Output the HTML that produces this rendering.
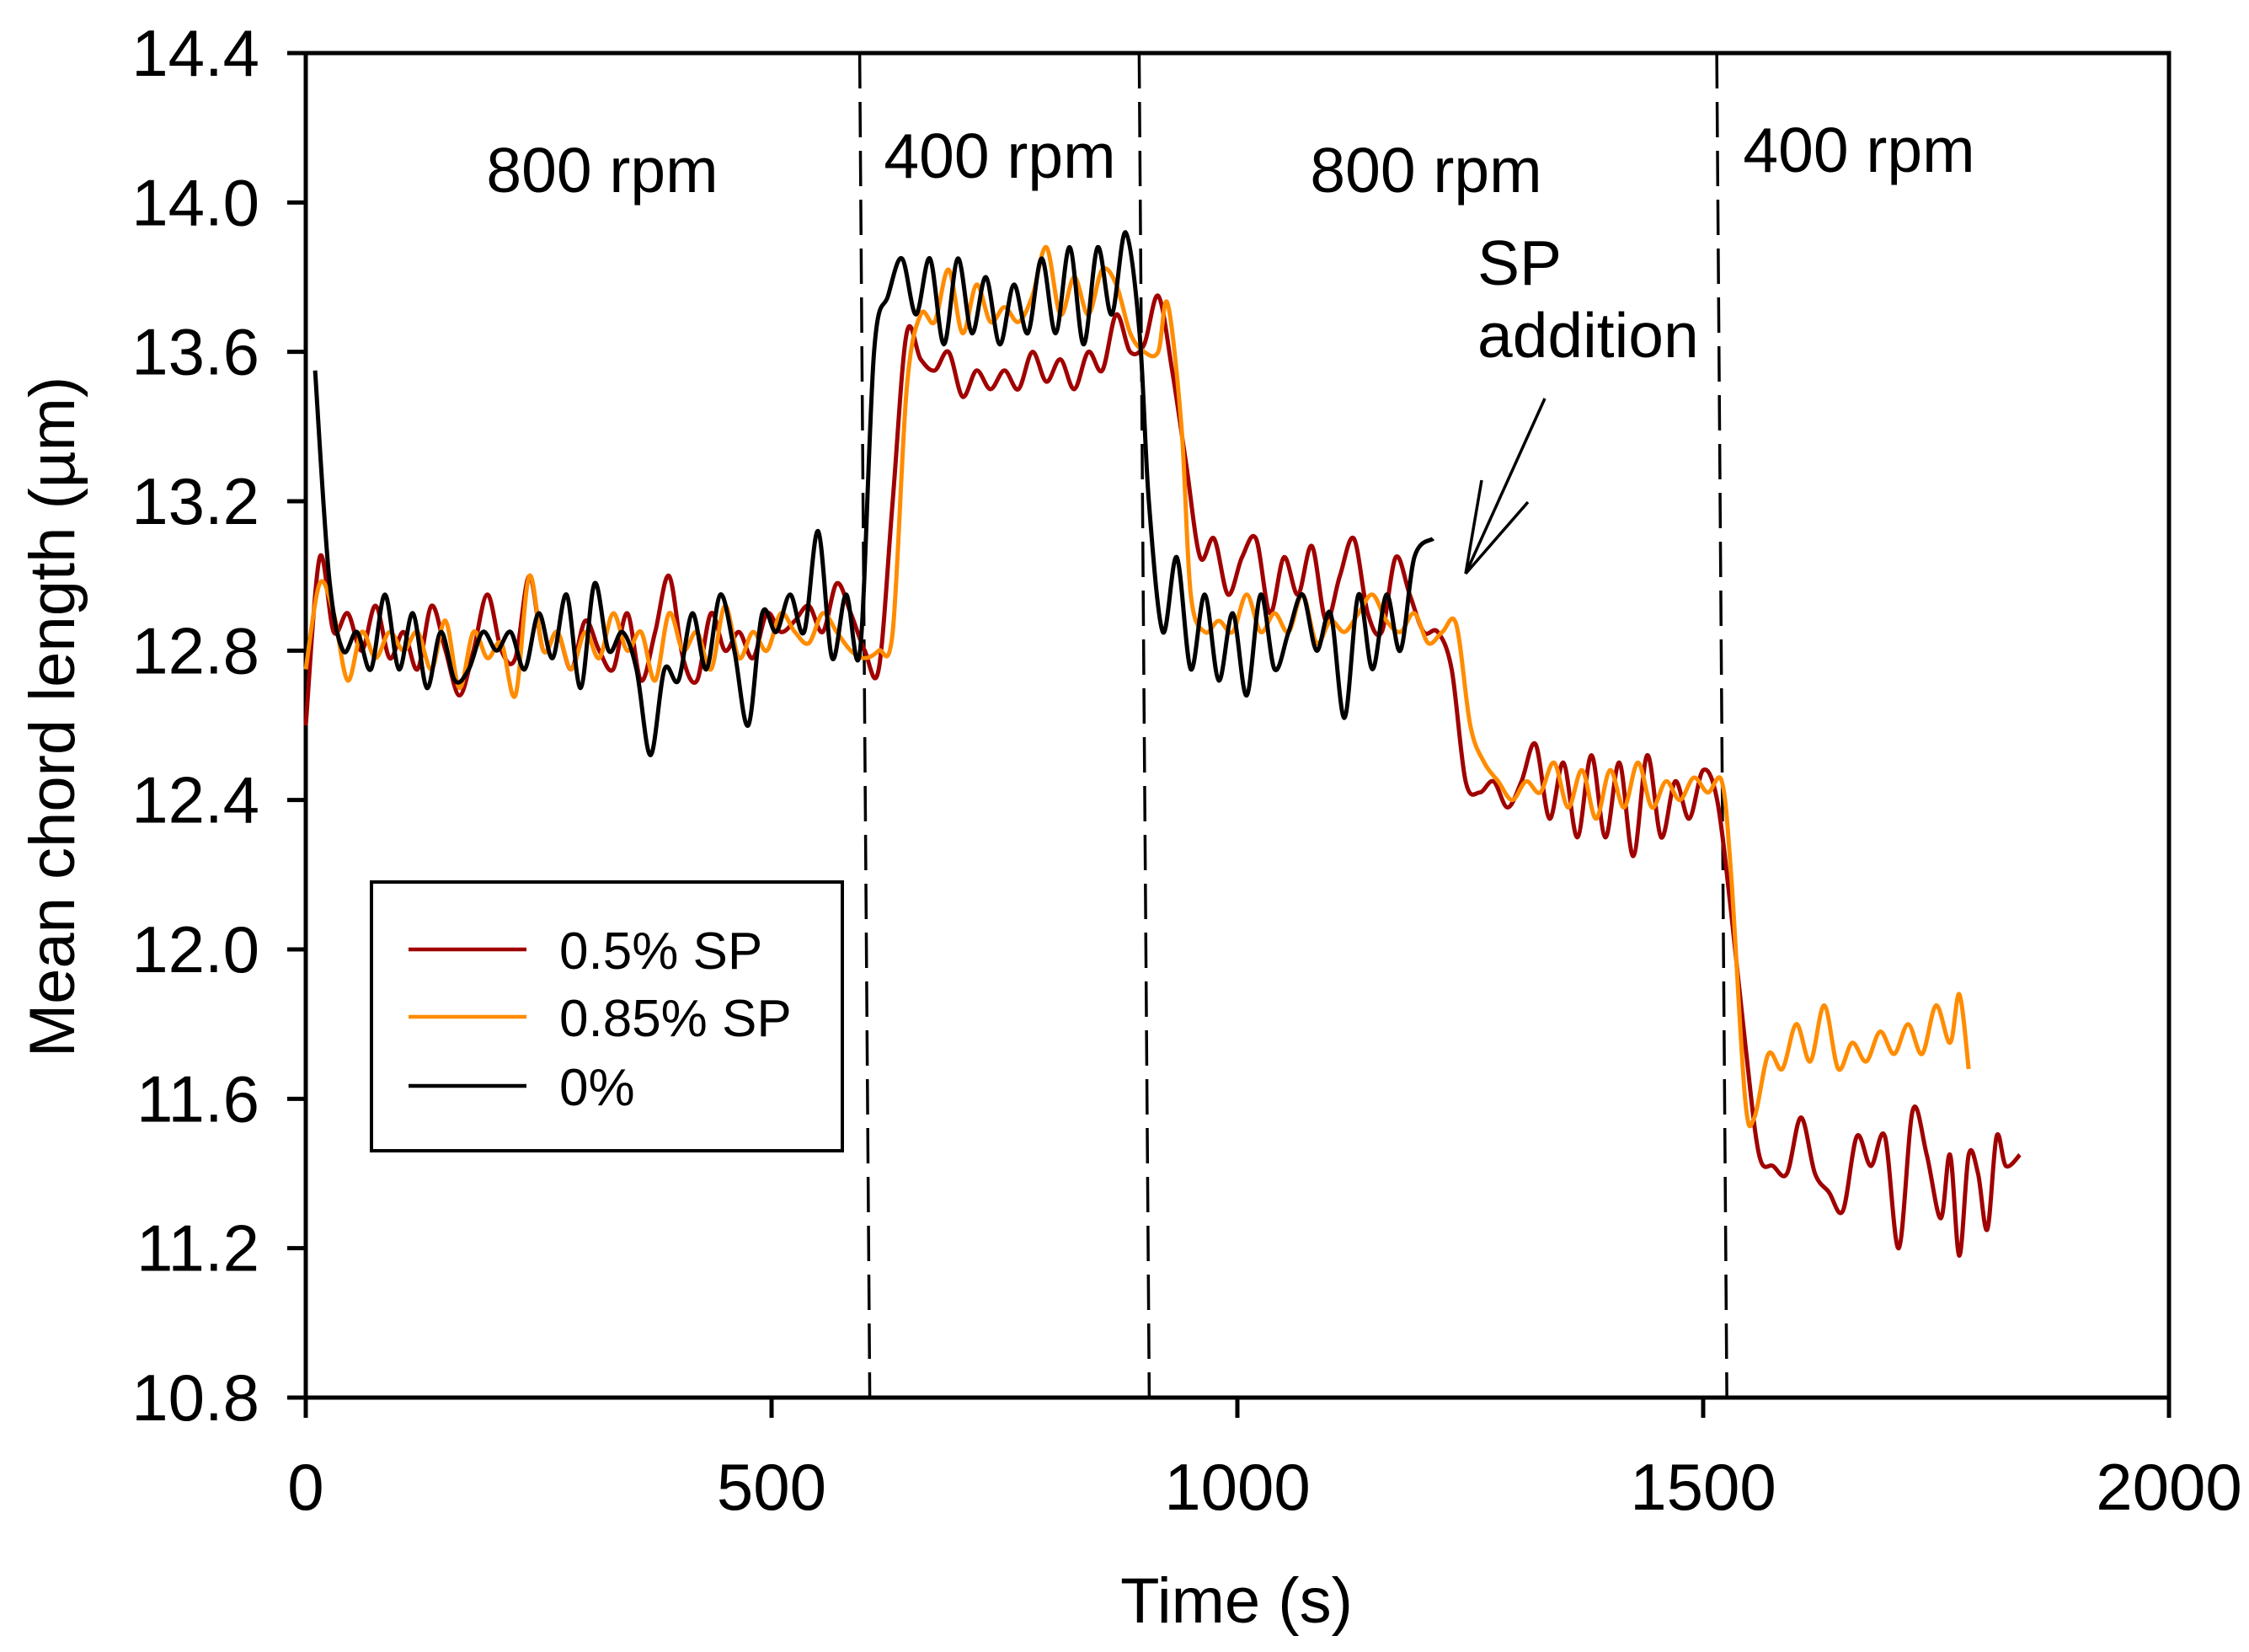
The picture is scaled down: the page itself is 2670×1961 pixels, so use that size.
<!DOCTYPE html>
<html><head><meta charset="utf-8"><style>
html,body{margin:0;padding:0;background:#fff}
svg{display:block}
text{font-family:"Liberation Sans",Arial,sans-serif;fill:#000}
</style></head><body>
<svg id="chart" width="2670" height="1961" viewBox="0 0 2670 1961">
<g id="axes"></g>
<g id="series"></g>
<g>
<text x="715" y="228" font-size="75" text-anchor="middle">800 rpm</text>
<text x="1187" y="211" font-size="75" text-anchor="middle">400 rpm</text>
<text x="1693" y="228" font-size="75" text-anchor="middle">800 rpm</text>
<text x="2207" y="204" font-size="75" text-anchor="middle">400 rpm</text>
<text x="1754" y="338" font-size="75">SP</text>
<text x="1754" y="424" font-size="75">addition</text>
<g stroke="#000" stroke-width="3.5" fill="none">
<line x1="1834" y1="473" x2="1740" y2="681"/>
<line x1="1740" y1="681" x2="1759" y2="570"/>
<line x1="1740" y1="681" x2="1814" y2="596"/>
</g>
</g>
<g>
<rect x="441" y="1047" width="559" height="319" fill="#fff" stroke="#000" stroke-width="4"/>
<line x1="485" y1="1127" x2="625" y2="1127" stroke="#a00000" stroke-width="4.5"/>
<text x="664" y="1150" font-size="62">0.5% SP</text>
<line x1="485" y1="1207" x2="625" y2="1207" stroke="#ff8c00" stroke-width="4.5"/>
<text x="664" y="1230" font-size="62">0.85% SP</text>
<line x1="485" y1="1289" x2="625" y2="1289" stroke="#000" stroke-width="4.5"/>
<text x="664" y="1312" font-size="62">0%</text>
</g>
</svg>
<script>
const xTicks=[0,500,1000,1500,2000];
const yTicks=[10.8,11.2,11.6,12.0,12.4,12.8,13.2,13.6,14.0,14.4];
const dividers=[600,900,1520];
const tBlack=[10,25,40,55,70,85,100,115,130,145,160,175,190,205,220,235,250,265,280,295,310,325,340,355,370,385,400,415,430,445,460,475,490,505,520,535,550,565,580,595,610,625,640,655,670,685,700,715,730,745,760,775,790,805,820,835,850,865,880,895,905,920,935,950,965,980,995,1010,1025,1040,1055,1070,1085,1100,1115,1130,1145,1160,1175,1190,1210];
const vBlack=[13.55,13.0,12.8,12.85,12.75,12.95,12.75,12.9,12.7,12.85,12.72,12.75,12.85,12.8,12.85,12.75,12.9,12.78,12.95,12.7,12.98,12.8,12.85,12.75,12.52,12.75,12.72,12.9,12.75,12.95,12.8,12.6,12.9,12.85,12.95,12.85,13.12,12.78,12.95,12.8,13.6,13.75,13.85,13.7,13.85,13.62,13.85,13.65,13.8,13.62,13.78,13.65,13.85,13.65,13.88,13.62,13.88,13.7,13.92,13.65,13.2,12.85,13.05,12.75,12.95,12.72,12.9,12.68,12.95,12.75,12.85,12.95,12.8,12.9,12.62,12.95,12.75,12.95,12.8,13.05,13.1];
const tRed=[0,15,30,45,60,75,90,105,120,135,150,165,180,195,210,225,240,255,270,285,300,315,330,345,360,375,390,405,420,435,450,465,480,495,510,525,540,555,570,585,600,615,630,645,660,675,690,705,720,735,750,765,780,795,810,825,840,855,870,885,900,915,930,945,960,975,990,1005,1020,1035,1050,1065,1080,1095,1110,1125,1140,1155,1170,1185,1200,1215,1230,1245,1260,1275,1290,1305,1320,1335,1350,1365,1380,1395,1410,1425,1440,1455,1470,1485,1500,1515,1530,1545,1560,1575,1590,1605,1620,1635,1650,1665,1680,1695,1710,1725,1740,1755,1765,1775,1785,1795,1805,1815,1825,1840];
const vRed=[12.6,13.05,12.85,12.9,12.8,12.92,12.78,12.85,12.75,12.92,12.8,12.68,12.8,12.95,12.8,12.78,13.0,12.8,12.85,12.75,12.88,12.8,12.75,12.9,12.72,12.85,13.0,12.78,12.72,12.9,12.8,12.85,12.78,12.9,12.85,12.88,12.92,12.85,12.98,12.9,12.8,12.75,13.2,13.65,13.58,13.55,13.6,13.48,13.55,13.5,13.55,13.5,13.6,13.52,13.58,13.5,13.6,13.55,13.7,13.6,13.62,13.75,13.55,13.3,13.05,13.1,12.95,13.05,13.1,12.9,13.05,12.95,13.08,12.88,13.0,13.1,12.9,12.85,13.05,12.95,12.85,12.85,12.75,12.45,12.42,12.45,12.38,12.45,12.55,12.35,12.5,12.3,12.52,12.3,12.5,12.25,12.52,12.3,12.45,12.35,12.48,12.4,12.1,11.75,11.45,11.42,11.4,11.55,11.4,11.35,11.3,11.5,11.42,11.5,11.2,11.57,11.45,11.28,11.45,11.18,11.45,11.4,11.25,11.5,11.42,11.45];
const tOrange=[0,15,30,45,60,75,90,105,120,135,150,165,180,195,210,225,240,255,270,285,300,315,330,345,360,375,390,405,420,435,450,465,480,495,510,525,540,555,570,585,600,615,630,645,660,675,690,705,720,735,750,765,780,795,810,825,840,855,870,885,900,915,925,940,950,965,980,995,1010,1025,1040,1055,1070,1085,1100,1115,1130,1145,1160,1175,1190,1205,1220,1235,1250,1265,1280,1295,1310,1325,1340,1355,1370,1385,1400,1415,1430,1445,1460,1475,1490,1505,1520,1530,1545,1555,1570,1585,1600,1615,1630,1645,1660,1675,1690,1705,1720,1735,1750,1765,1775,1785];
const vOrange=[12.75,12.98,12.9,12.72,12.85,12.78,12.85,12.8,12.85,12.75,12.88,12.7,12.85,12.78,12.82,12.68,13.0,12.8,12.85,12.75,12.85,12.78,12.9,12.8,12.85,12.72,12.9,12.8,12.85,12.75,12.92,12.78,12.85,12.8,12.9,12.85,12.82,12.9,12.85,12.8,12.78,12.8,12.85,13.5,13.7,13.68,13.82,13.65,13.78,13.68,13.72,13.68,13.75,13.88,13.7,13.8,13.7,13.82,13.78,13.65,13.6,13.6,13.73,13.4,12.95,12.85,12.88,12.85,12.95,12.85,12.9,12.85,12.95,12.82,12.88,12.85,12.9,12.95,12.88,12.85,12.9,12.82,12.85,12.87,12.6,12.5,12.45,12.4,12.45,12.42,12.5,12.38,12.48,12.35,12.48,12.38,12.5,12.38,12.45,12.4,12.46,12.42,12.45,12.2,11.6,11.55,11.72,11.68,11.8,11.7,11.85,11.68,11.75,11.7,11.78,11.72,11.8,11.72,11.85,11.75,11.88,11.68];

const L=363,R=2575,T=63,B=1659;
const xs=t=>L+(t-0)/(2000-0)*(R-L);
const ys=v=>B-(v-10.8)/(14.4-10.8)*(B-T);
const NS='http://www.w3.org/2000/svg';
function mk(tag,attrs,parent){const e=document.createElementNS(NS,tag);for(const k in attrs)e.setAttribute(k,attrs[k]);parent.appendChild(e);return e;}
const axes=document.getElementById('axes');
const frame=mk('rect',{x:L,y:T,width:R-L,height:B-T,fill:'none',stroke:'#000','stroke-width':5},axes);


yTicks.forEach(v=>{
  const y=ys(v);
  const tk=mk('line',{x1:L-22,x2:L,y1:y,y2:y,stroke:'#000','stroke-width':5},axes);
  
  
  const tx=mk('text',{x:L-55,y:y+27,'font-size':78,'text-anchor':'end'},axes);
  tx.textContent=v.toFixed(1);
  
  
});
xTicks.forEach(t=>{
  const x=xs(t);
  const tk=mk('line',{x1:x,x2:x,y1:B,y2:B+24,stroke:'#000','stroke-width':5},axes);
  
  
  const tx=mk('text',{x:x,y:1792,'font-size':78,'text-anchor':'middle'},axes);
  tx.textContent=String(t);
  
  
});
const xt=mk('text',{x:1468,y:1926,'font-size':76,'text-anchor':'middle'},axes);
xt.textContent='Time (s)';


const yt=mk('text',{x:0,y:0,'font-size':76,'text-anchor':'middle',transform:'translate(88,851) rotate(-90)'},axes);
yt.textContent='Mean chord length (µm)';


dividers.forEach(t=>{
  const d=mk('line',{x1:xs(t)-6,y1:T,x2:xs(t)+6,y2:B,stroke:'#000','stroke-width':3.5,'stroke-dasharray':'42 16'},axes);
  
  
});
function path(ts,vs){
  const p=ts.map((t,i)=>[xs(t),ys(vs[i])]);
  let d='M'+p[0][0].toFixed(1)+','+p[0][1].toFixed(1);
  for(let i=0;i<p.length-1;i++){
    const p0=p[Math.max(0,i-1)],p1=p[i],p2=p[i+1],p3=p[Math.min(p.length-1,i+2)];
    const c1=[p1[0]+(p2[0]-p0[0])/6,p1[1]+(p2[1]-p0[1])/6];
    const c2=[p2[0]-(p3[0]-p1[0])/6,p2[1]-(p3[1]-p1[1])/6];
    d+='C'+c1.map(n=>n.toFixed(1)).join(',')+' '+c2.map(n=>n.toFixed(1)).join(',')+' '+p2.map(n=>n.toFixed(1)).join(',');
  }
  return d;
}
const sg=document.getElementById('series');
const sRed=mk('path',{d:path(tRed,vRed),fill:'none',stroke:'#a00000','stroke-width':5},sg);


const sOr=mk('path',{d:path(tOrange,vOrange),fill:'none',stroke:'#ff8c00','stroke-width':5},sg);


const sBl=mk('path',{d:path(tBlack,vBlack),fill:'none',stroke:'#000','stroke-width':5},sg);


</script>
</body></html>
